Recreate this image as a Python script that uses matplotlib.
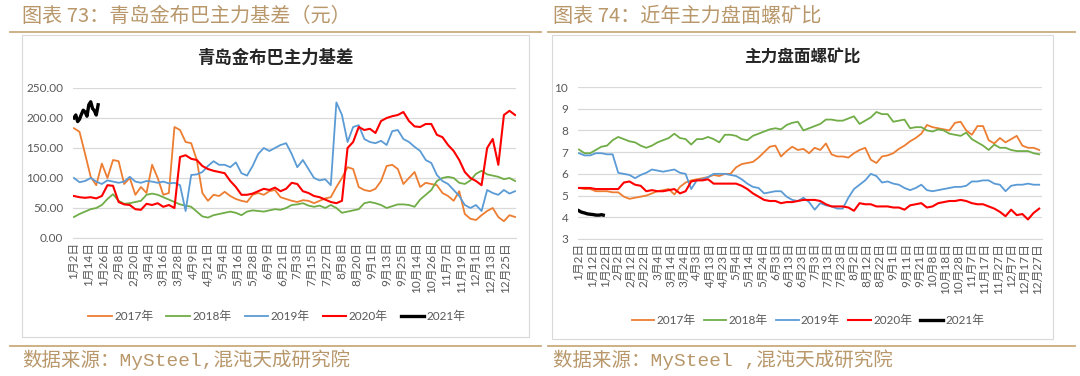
import numpy as np
import matplotlib.pyplot as plt
from matplotlib.lines import Line2D
from matplotlib.patches import Rectangle

plt.rcParams['font.family'] = ['Noto Sans CJK SC', 'DejaVu Sans']

W, H = 1080, 376

# 图表73：青岛金布巴主力基差（元），每3个交易日取一个值
basis_2017 = [183, 177, 140, 102, 88, 124, 100, 130, 128, 90, 100, 72, 85, 75, 122, 100,
              72, 75, 185, 180, 160, 158, 130, 75, 62, 72, 70, 77, 70, 65, 62, 60,
              72, 75, 72, 78, 80, 68, 65, 62, 60, 63, 62, 58, 62, 66, 68, 85,
              100, 118, 115, 85, 80, 78, 82, 95, 120, 122, 115, 90, 100, 110, 85, 92,
              90, 88, 75, 70, 62, 78, 40, 32, 30, 38, 45, 50, 35, 28, 38, 35]
basis_2018 = [35, 40, 44, 48, 50, 55, 65, 73, 62, 57, 58, 60, 62, 72, 74, 72,
              68, 64, 60, 56, 54, 52, 44, 36, 34, 38, 40, 42, 44, 42, 38, 44,
              46, 45, 44, 46, 48, 47, 50, 55, 56, 58, 54, 52, 54, 50, 55, 50,
              42, 44, 46, 48, 58, 60, 58, 55, 50, 53, 56, 56, 55, 52, 64, 72,
              80, 95, 100, 102, 100, 92, 90, 96, 107, 112, 106, 104, 102, 98, 100, 95]
basis_2019 = [100, 93, 95, 100, 94, 90, 96, 94, 92, 94, 102, 94, 92, 95, 94, 92,
              94, 91, 92, 88, 45, 105, 106, 110, 120, 128, 122, 122, 118, 126, 108, 104,
              120, 140, 150, 145, 150, 155, 158, 140, 118, 130, 115, 100, 96, 98, 88, 226,
              205, 160, 185, 188, 165, 160, 158, 162, 155, 178, 180, 165, 160, 152, 145, 130,
              125, 105, 95, 90, 80, 70, 55, 50, 55, 45, 80, 75, 72, 80, 74, 78]
basis_2020 = [70, 68, 67, 68, 66, 70, 88, 87, 60, 56, 55, 48, 47, 57, 55, 58,
              52, 55, 50, 135, 138, 132, 130, 120, 115, 112, 110, 108, 95, 85, 72, 72,
              74, 78, 82, 80, 84, 78, 82, 92, 90, 78, 75, 70, 68, 64, 60, 58,
              62, 150, 160, 185, 180, 182, 175, 195, 200, 203, 205, 210, 195, 186, 185, 190,
              190, 172, 168, 155, 145, 130, 110, 100, 95, 88, 150, 165, 122, 205, 212, 205]
basis_2021 = [200, 205, 194, 198, 206, 213, 210, 203, 222, 227, 216, 212, 205, 222]
basis_ticks = ['1月2日', '1月14日', '1月26日', '2月8日', '2月20日', '3月4日', '3月16日',
               '3月28日', '4月9日', '4月21日', '5月4日', '5月16日', '5月28日', '6月9日',
               '6月21日', '7月3日', '7月15日', '7月27日', '8月8日', '8月20日', '9月1日',
               '9月13日', '9月25日', '10月14日', '10月26日', '11月7日', '11月19日',
               '12月1日', '12月13日', '12月25日']

# 图表74：近年主力盘面螺矿比，每3个交易日取一个值
ratio_2017 = [5.35, 5.3, 5.3, 5.2, 5.2, 5.2, 5.15, 5.15, 4.95, 4.85, 4.9, 4.95, 5.0, 5.1,
              5.2, 5.25, 5.3, 5.05, 5.4, 5.6, 5.7, 5.75, 5.8, 5.85, 5.95, 5.9, 6.0, 6.0,
              6.3, 6.45, 6.5, 6.55, 6.75, 7.0, 7.25, 7.3, 6.8, 7.05, 7.25, 7.1, 7.15, 6.95,
              7.2, 7.1, 7.4, 6.9, 6.8, 6.8, 6.75, 6.95, 7.1, 7.2, 6.65, 6.5, 6.8, 6.85,
              6.95, 7.15, 7.3, 7.5, 7.65, 7.85, 8.25, 8.15, 8.1, 8.05, 8.0, 8.35, 8.4, 8.0,
              7.8, 8.2, 8.2, 7.55, 7.4, 7.65, 7.45, 7.6, 7.75, 7.3, 7.2, 7.2, 7.1]
ratio_2018 = [7.12, 6.95, 6.95, 7.1, 7.25, 7.3, 7.55, 7.7, 7.6, 7.5, 7.45, 7.3, 7.2, 7.3,
              7.45, 7.55, 7.65, 7.85, 7.65, 7.6, 7.35, 7.6, 7.6, 7.7, 7.6, 7.45, 7.8, 7.8,
              7.75, 7.6, 7.55, 7.75, 7.85, 7.95, 8.05, 8.1, 8.05, 8.25, 8.35, 8.4, 8.0, 8.1,
              8.2, 8.3, 8.5, 8.5, 8.45, 8.45, 8.55, 8.65, 8.3, 8.45, 8.6, 8.85, 8.75, 8.75,
              8.4, 8.45, 8.5, 8.1, 8.15, 8.15, 8.0, 7.95, 8.05, 8.0, 7.85, 7.8, 7.75, 7.9,
              7.6, 7.45, 7.3, 7.1, 7.35, 7.2, 7.2, 7.1, 7.05, 7.05, 7.05, 6.95, 6.9]
ratio_2019 = [6.95, 6.85, 6.85, 6.95, 6.95, 6.9, 6.9, 6.05, 6.0, 5.95, 5.8, 5.95, 6.05, 6.2,
              6.15, 6.1, 6.15, 6.2, 6.05, 6.0, 5.3, 5.7, 5.75, 5.85, 6.0, 6.0, 6.0, 5.95,
              5.9, 5.75, 5.55, 5.4, 5.35, 5.1, 5.15, 5.2, 5.2, 4.95, 4.8, 4.75, 4.9, 4.7,
              4.35, 4.65, 4.55, 4.5, 4.4, 4.4, 4.9, 5.3, 5.5, 5.7, 6.0, 5.9, 5.6, 5.65,
              5.55, 5.5, 5.35, 5.25, 5.35, 5.5, 5.25, 5.2, 5.25, 5.3, 5.35, 5.4, 5.4, 5.45,
              5.65, 5.65, 5.7, 5.7, 5.55, 5.5, 5.2, 5.45, 5.5, 5.5, 5.55, 5.5, 5.5]
ratio_2020 = [5.35, 5.35, 5.35, 5.3, 5.3, 5.3, 5.3, 5.3, 5.6, 5.65, 5.5, 5.45, 5.2, 5.25,
              5.2, 5.2, 5.25, 5.3, 5.1, 5.2, 5.65, 5.7, 5.7, 5.75, 5.55, 5.55, 5.55, 5.55,
              5.55, 5.45, 5.3, 5.1, 4.95, 4.8, 4.75, 4.75, 4.65, 4.7, 4.7, 4.75, 4.8, 4.8,
              4.8, 4.75, 4.6, 4.5, 4.5, 4.5, 4.45, 4.3, 4.65, 4.6, 4.6, 4.5, 4.5, 4.5,
              4.45, 4.45, 4.35, 4.55, 4.6, 4.65, 4.45, 4.5, 4.65, 4.7, 4.75, 4.75, 4.8, 4.75,
              4.65, 4.6, 4.6, 4.5, 4.4, 4.25, 4.05, 4.35, 4.1, 4.15, 3.9, 4.2, 4.4]
ratio_2021 = [4.3, 4.25, 4.22, 4.2, 4.17, 4.15, 4.14, 4.13, 4.12, 4.1, 4.1, 4.1, 4.12, 4.1]
ratio_ticks = ['1月2日', '1月12日', '1月22日', '2月2日', '2月12日', '2月22日', '3月4日',
               '3月14日', '3月24日', '4月3日', '4月13日', '4月23日', '5月4日', '5月14日',
               '5月24日', '6月3日', '6月13日', '6月23日', '7月3日', '7月13日', '7月23日',
               '8月2日', '8月12日', '8月22日', '9月1日', '9月11日', '9月21日', '10月8日',
               '10月18日', '10月28日', '11月7日', '11月17日', '11月27日', '12月7日',
               '12月17日', '12月27日']

years = ['2017年', '2018年', '2019年', '2020年', '2021年']
colors = ['#ED7D31', '#70AD47', '#5B9BD5', '#FF0000', '#000000']
widths = [1.3, 1.3, 1.3, 1.5, 2.4]

GOLD = '#b8976a'
GRAY = '#595959'


def rect(x0, y0, x1, y1):
    return [x0 / W, 1 - y1 / H, (x1 - x0) / W, (y1 - y0) / H]


def hline(fig, x0, x1, y, color, lw):
    fig.add_artist(Line2D([x0 / W, x1 / W], [1 - y / H, 1 - y / H], color=color, lw=lw,
                          transform=fig.transFigure))


def box(fig, x0, y0, x1, y1):
    fig.add_artist(Rectangle((x0 / W, 1 - y1 / H), (x1 - x0) / W, (y1 - y0) / H, fill=False,
                             edgecolor='#d9d9d9', lw=0.8, transform=fig.transFigure))


def draw_panel(fig, area, series, n_days, tick_step, ticks, ylim, ystep, yfmt):
    ax = fig.add_axes(rect(*area))
    for vals, c, lw in zip(series, colors, widths):
        step = 1 if len(vals) < 20 else 3
        x = np.arange(len(vals)) * step
        ax.plot(x, vals, color=c, lw=lw, solid_joinstyle='round')
    ax.set_xlim(-0.5, n_days - 0.5)
    ax.set_ylim(*ylim)
    ax.set_yticks(np.arange(ylim[0], ylim[1] + ystep / 2, ystep))
    ax.set_yticklabels([yfmt.format(v) for v in ax.get_yticks()])
    ax.set_xticks(np.arange(len(ticks)) * tick_step)
    ax.set_xticklabels(ticks, rotation=90)
    ax.grid(axis='y', color='#d9d9d9', lw=0.9)
    ax.set_axisbelow(True)
    for s in ['top', 'right', 'left']:
        ax.spines[s].set_visible(False)
    ax.spines['bottom'].set_color('#d9d9d9')
    ax.tick_params(length=0, colors=GRAY, labelsize=8.5)
    ax.tick_params(axis='y', pad=7)
    ax.tick_params(axis='x', pad=3)
    for lab in ax.get_xticklabels() + ax.get_yticklabels():
        lab.set_family(['Lato', 'Noto Sans CJK SC'])
    return ax


fig = plt.figure(figsize=(W / 100, H / 100), dpi=100)

# 页眉与页脚
fig.text(22 / W, 1 - 16 / H, '图表 73：青岛金布巴主力基差（元）', color=GOLD, fontsize=14.5,
         va='center', ha='left')
fig.text(553 / W, 1 - 16 / H, '图表 74：近年主力盘面螺矿比', color=GOLD, fontsize=14.5,
         va='center', ha='left')
hline(fig, 10, 541, 32, '#c9aa7c', 1.3)
hline(fig, 548, 1075, 32, '#c9aa7c', 1.3)
hline(fig, 10, 541, 346, '#c9aa7c', 1.3)
hline(fig, 548, 1075, 346, '#c9aa7c', 1.3)
foot_font = ['Liberation Mono', 'Noto Sans CJK SC']
fig.text(22 / W, 1 - 360 / H, '数据来源：MySteel,混沌天成研究院', color=GOLD, fontsize=14,
         va='center', ha='left', family=foot_font)
fig.text(553 / W, 1 - 360 / H, '数据来源：MySteel ,混沌天成研究院', color=GOLD, fontsize=14,
         va='center', ha='left', family=foot_font)

box(fig, 22, 35, 529, 337)
box(fig, 552, 35, 1053, 339)

fig.text(275 / W, 1 - 58 / H, '青岛金布巴主力基差', fontsize=12.5, fontweight='bold',
         ha='center', va='center', color='#262626')
fig.text(802 / W, 1 - 58 / H, '主力盘面螺矿比', fontsize=12, fontweight='bold',
         ha='center', va='center', color='#262626')

draw_panel(fig, (73, 88, 516, 238),
           [basis_2017, basis_2018, basis_2019, basis_2020, basis_2021],
           238, 8, basis_ticks, (0, 250), 50, '{:.2f}')
draw_panel(fig, (578, 87, 1042, 239),
           [ratio_2017, ratio_2018, ratio_2019, ratio_2020, ratio_2021],
           248, 7, ratio_ticks, (3, 10), 1, '{:.0f}')

handles = [Line2D([], [], color=c, lw=lw) for c, lw in zip(colors, widths)]
for cx, cy, cs, hl in [(277, 316, 1.1, 2.0), (808, 320, 0.7, 1.9)]:
    leg = fig.legend(handles, years, loc='center', bbox_to_anchor=(cx / W, 1 - cy / H),
                     ncol=5, frameon=False, handlelength=hl, handletextpad=0.2,
                     columnspacing=cs, fontsize=8.5)
    for t in leg.get_texts():
        t.set_color(GRAY)
        t.set_family(['Lato', 'Noto Sans CJK SC'])

fig.savefig('out.png', dpi=100)
